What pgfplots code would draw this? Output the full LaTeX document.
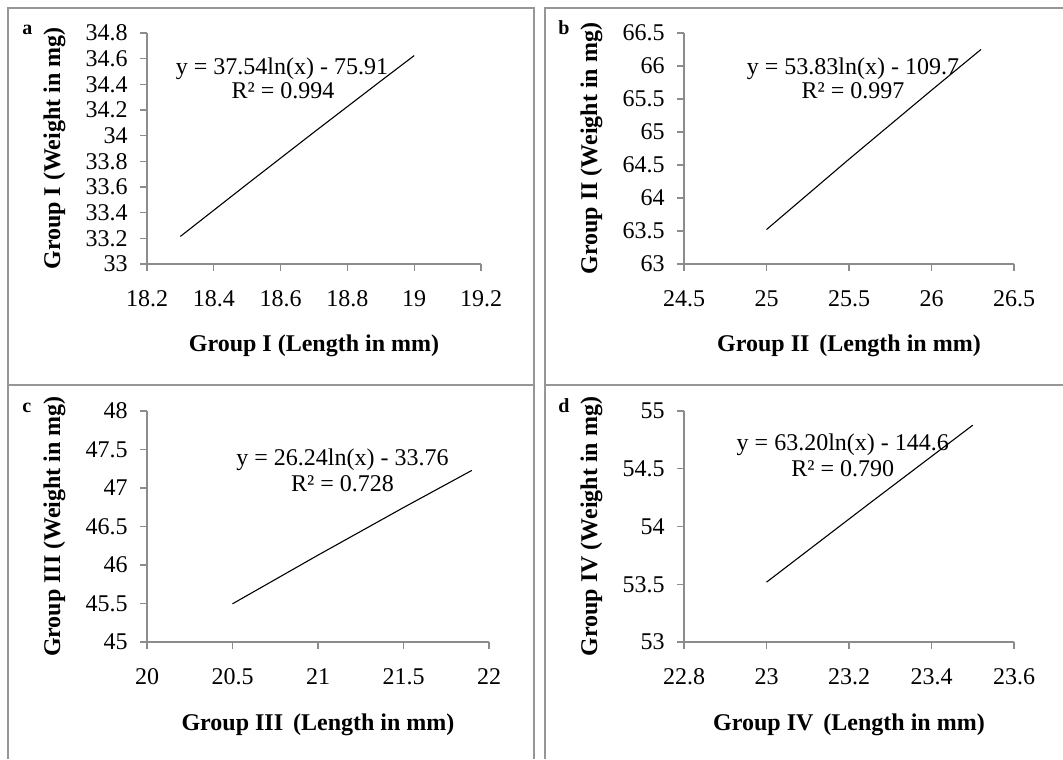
\documentclass[border=0pt]{standalone}
\usepackage{fontspec}
\setmainfont{Liberation Serif}
\usepackage{pgfplots}
\pgfplotsset{compat=1.18}

\definecolor{framegray}{RGB}{150,150,150}
\definecolor{axisgray}{RGB}{140,140,140}

\newcommand{\tfont}{\fontsize{12}{14}\selectfont}

\tikzset{eq/.style={anchor=base, font=\tfont}}

\pgfplotsset{
  panel/.style={
    scale only axis,
    height=115.5pt,
    anchor=south west,
    axis x line=bottom,
    axis y line=left,
    axis line style={-, axisgray, line width=0.6pt},
    tick align=outside,
    major tick length=3.5pt,
    tick style={axisgray, line width=0.6pt},
    font=\tfont,
    /pgf/number format/assume math mode=true,
    xticklabel style={yshift=-6.3pt},
    yticklabel style={xshift=-2.7pt},
    every axis x label/.style={at={([yshift=-44pt]axis description cs:0.5,0)},
      anchor=base, font=\tfont\bfseries},
    every axis y label/.style={at={([xshift=-43.5pt]axis description cs:0,0.5)},
      rotate=90, anchor=base, font=\tfont\bfseries},
    clip=false,
  },
  trend/.style={black, line width=0.55pt, no markers},
}

\begin{document}
\begin{tikzpicture}
\useasboundingbox (0,0) rectangle (531.5pt,379.5pt);

% a
\begin{axis}[panel, at={(73.5pt,247.5pt)}, width=167pt,
    xmin=18.2, xmax=19.2, ymin=33, ymax=34.8,
    xtick={18.2,18.4,18.6,18.8,19,19.2},
    ytick={33,33.2,33.4,33.6,33.8,34,34.2,34.4,34.6,34.8},
    xlabel={Group I (Length in mm)},
    ylabel={Group I (Weight in mg)}]
\addplot[trend] coordinates {
  (18.3,33.215) (18.5,33.623) (18.7,34.027) (18.9,34.426) (19.0,34.624)
};
\node[eq] at (axis cs:18.604,34.473) {y = 37.54ln(x) - 75.91};
\node[eq] at (axis cs:18.607,34.286) {R² = 0.994};
\end{axis}

% b
\begin{axis}[panel, at={(342pt,247.5pt)}, width=165pt,
    xmin=24.5, xmax=26.5, ymin=63, ymax=66.5,
    xtick={24.5,25,25.5,26,26.5},
    ytick={63,63.5,64,64.5,65,65.5,66,66.5},
    xlabel={Group II\, (Length in mm)},
    ylabel={Group II (Weight in mg)}]
\addplot[trend] coordinates {
  (25.0,63.522) (25.5,64.588) (26.0,65.633) (26.3,66.251)
};
\node[eq] at (axis cs:25.524,65.864) {y = 53.83ln(x) - 109.7};
\node[eq] at (axis cs:25.524,65.5) {R² = 0.997};
\end{axis}

% c
\begin{axis}[panel, at={(73.5pt,58.5pt)}, width=171pt,
    xmin=20, xmax=22, ymin=45, ymax=48,
    xtick={20,20.5,21,21.5,22},
    ytick={45,45.5,46,46.5,47,47.5,48},
    xlabel={Group III\, (Length in mm)},
    ylabel={Group III (Weight in mg)}]
\addplot[trend] coordinates {
  (20.5,45.496) (21.0,46.128) (21.5,46.746) (21.9,47.229)
};
\node[eq] at (axis cs:21.143,47.286) {y = 26.24ln(x) - 33.76};
\node[eq] at (axis cs:21.143,46.961) {R² = 0.728};
\end{axis}

% d
\begin{axis}[panel, at={(342pt,58.5pt)}, width=165pt,
    xmin=22.8, xmax=23.6, ymin=53, ymax=55,
    xtick={22.8,23,23.2,23.4,23.6},
    ytick={53,53.5,54,54.5,55},
    xlabel={Group IV\, (Length in mm)},
    ylabel={Group IV (Weight in mg)}]
\addplot[trend] coordinates {
  (23.0,53.518) (23.25,54.201) (23.5,54.877)
};
\node[eq] at (axis cs:23.185,54.656) {y = 63.20ln(x) - 144.6};
\node[eq] at (axis cs:23.185,54.431) {R² = 0.790};
\end{axis}

% panel frames
\begin{scope}[framegray, line width=1pt]
\draw (4pt,0) -- (4pt,375.5pt) -- (267pt,375.5pt) -- (267pt,0);
\draw (4pt,186.75pt) -- (267pt,186.75pt);
\draw (272.5pt,0) -- (272.5pt,375.5pt) -- (531.5pt,375.5pt);
\draw (272.5pt,186.75pt) -- (531.5pt,186.75pt);
\end{scope}

% panel letters
\begin{scope}[font=\fontsize{10}{12}\selectfont\bfseries]
\node[anchor=base west, inner sep=0pt] at (11pt,362.25pt) {a};
\node[anchor=base west, inner sep=0pt] at (279pt,362.25pt) {b};
\node[anchor=base west, inner sep=0pt] at (11pt,173pt) {c};
\node[anchor=base west, inner sep=0pt] at (279pt,173pt) {d};
\end{scope}
\end{tikzpicture}
\end{document}
